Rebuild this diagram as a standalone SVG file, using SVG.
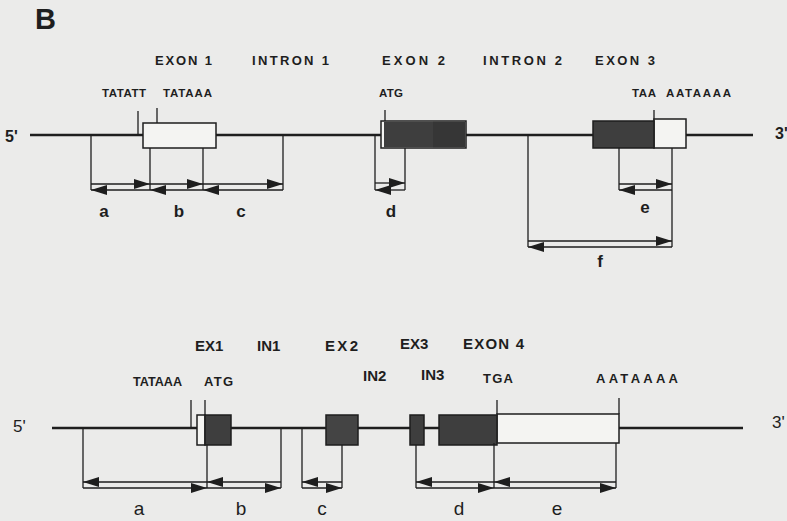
<svg xmlns="http://www.w3.org/2000/svg" width="787" height="521" viewBox="0 0 787 521">
<style>
text{font-family:"Liberation Sans",Arial,sans-serif;fill:#1e1e1e}
.hd{font-size:13px;font-weight:bold}
.sm{font-size:11.5px;font-weight:bold}
.bh{font-size:15px;font-weight:bold}
.bs{font-size:13px;font-weight:bold}
.lt{font-size:17px;font-weight:bold;text-anchor:middle}
.lb{font-size:19px;text-anchor:middle}
.end{font-size:16px;font-weight:bold}
.dna{stroke:#1e1e1e;stroke-width:2.6;fill:none}
.ln{stroke:#1e1e1e;stroke-width:1.3;fill:none}
.wb{fill:#f4f4f2;stroke:#1e1e1e;stroke-width:1.5}
.db{fill:#3e3e3e;stroke:#1e1e1e;stroke-width:1.5}
.ar{stroke:#1e1e1e;stroke-width:1.3;fill:none;marker-end:url(#ah)}
</style>
<defs>
<marker id="ah" markerUnits="userSpaceOnUse" markerWidth="16" markerHeight="10" refX="16" refY="5" orient="auto">
<path d="M0,0 L16,5 L0,10 z" fill="#1e1e1e"/>
</marker>
</defs>
<rect width="787" height="521" fill="#ebebea"/>
<text x="35" y="29" style="font-size:29px;font-weight:bold">B</text>

<g id="top-gene">
<line class="dna" x1="30" y1="135" x2="753" y2="135"/>
<text class="end" x="5" y="142">5'</text>
<text class="end" x="775" y="139">3'</text>
<text class="hd" x="155" y="65" textLength="57" lengthAdjust="spacing">EXON 1</text>
<text class="hd" x="252" y="65" textLength="77" lengthAdjust="spacing">INTRON 1</text>
<text class="hd" x="382" y="65" textLength="63" lengthAdjust="spacing">EXON 2</text>
<text class="hd" x="483" y="65" textLength="79" lengthAdjust="spacing">INTRON 2</text>
<text class="hd" x="595" y="65" textLength="60" lengthAdjust="spacing">EXON 3</text>
</g>
<g id="top-exon1">
<line class="ln" x1="138" y1="111" x2="138" y2="135"/>
<line class="ln" x1="157" y1="108" x2="157" y2="123"/>
<rect class="wb" x="143" y="123" width="73" height="25"/>
<text class="sm" x="102" y="97" textLength="44" lengthAdjust="spacing">TATATT</text>
<text class="sm" x="163" y="97" textLength="49" lengthAdjust="spacing">TATAAA</text>
</g>
<g id="top-exon2">
<line class="ln" x1="385" y1="110" x2="385" y2="121"/>
<rect class="wb" x="381" y="121" width="85" height="27"/>
<rect x="384" y="121.8" width="81.2" height="25.4" fill="#3e3e3e"/>
<rect x="433" y="121.8" width="32.2" height="25.4" fill="#363636"/>
<text class="sm" x="379" y="97" textLength="24" lengthAdjust="spacing">ATG</text>
</g>
<g id="top-exon3">
<line class="ln" x1="654" y1="110" x2="654" y2="121"/>
<rect class="wb" x="654" y="119" width="32" height="29"/>
<rect class="db" x="593" y="121" width="61" height="27"/>
<text class="sm" x="632" y="97" textLength="24" lengthAdjust="spacing">TAA</text>
<text class="sm" x="666" y="97" textLength="65" lengthAdjust="spacing">AATAAAA</text>
</g>

<g id="top-connectors">
<line class="ln" x1="91" y1="135" x2="91" y2="190"/>
<line class="ln" x1="150" y1="148" x2="150" y2="190"/>
<line class="ln" x1="203" y1="148" x2="203" y2="190"/>
<line class="ln" x1="283" y1="135" x2="283" y2="190"/>
<line class="ar" x1="91" y1="184" x2="150" y2="184"/>
<line class="ar" x1="150" y1="190" x2="91" y2="190"/>
<line class="ar" x1="150" y1="184" x2="203" y2="184"/>
<line class="ar" x1="203" y1="190" x2="150" y2="190"/>
<line class="ar" x1="203" y1="184" x2="283" y2="184"/>
<line class="ar" x1="283" y1="190" x2="203" y2="190"/>
<line class="ln" x1="375" y1="135" x2="375" y2="190"/>
<line class="ln" x1="405" y1="148" x2="405" y2="190"/>
<line class="ar" x1="375" y1="183" x2="405" y2="183"/>
<line class="ar" x1="405" y1="190" x2="375" y2="190"/>
<line class="ln" x1="619" y1="148" x2="619" y2="190"/>
<line class="ln" x1="672" y1="148" x2="672" y2="247"/>
<line class="ar" x1="619" y1="184" x2="672" y2="184"/>
<line class="ar" x1="672" y1="190" x2="619" y2="190"/>
<line class="ln" x1="528" y1="135" x2="528" y2="247"/>
<line class="ar" x1="528" y1="241" x2="672" y2="241"/>
<line class="ar" x1="672" y1="247" x2="528" y2="247"/>
<text class="lt" x="104" y="217">a</text>
<text class="lt" x="179" y="217">b</text>
<text class="lt" x="241" y="217">c</text>
<text class="lt" x="391" y="217">d</text>
<text class="lt" x="645" y="213">e</text>
<text class="lt" x="600" y="267">f</text>
</g>

<g id="bottom-gene">
<line class="dna" x1="52" y1="428" x2="743" y2="428"/>
<text x="13" y="432" style="font-size:17px">5'</text>
<text x="772" y="428" style="font-size:17px">3'</text>
<text class="bh" x="195" y="351">EX1</text>
<text class="bh" x="257" y="351">IN1</text>
<text class="bh" x="325" y="351" textLength="33" lengthAdjust="spacing">EX2</text>
<text class="bh" x="363" y="381">IN2</text>
<text class="bh" x="400" y="349">EX3</text>
<text class="bh" x="421" y="380">IN3</text>
<text class="bh" x="463" y="349" textLength="61" lengthAdjust="spacing">EXON 4</text>
</g>
<g id="bottom-ex1">
<line class="ln" x1="191" y1="400" x2="191" y2="428"/>
<line class="ln" x1="205" y1="400" x2="205" y2="415"/>
<rect class="wb" x="197" y="415" width="8" height="30"/>
<rect class="db" x="205" y="415" width="26" height="30"/>
<text class="bs" x="133" y="386" textLength="49" lengthAdjust="spacingAndGlyphs">TATAAA</text>
<text class="bs" x="204" y="386" textLength="29" lengthAdjust="spacing">ATG</text>
</g>
<g id="bottom-ex2">
<rect class="db" x="326" y="415" width="32" height="30" style="fill:#444"/>
</g>
<g id="bottom-ex3">
<rect class="db" x="410" y="415" width="14" height="30"/>
</g>
<g id="bottom-ex4">
<line class="ln" x1="497" y1="400" x2="497" y2="414"/>
<line class="ln" x1="619" y1="398" x2="619" y2="414"/>
<rect class="wb" x="497" y="414" width="122" height="29"/>
<rect class="db" x="439" y="415" width="58" height="30"/>
<text class="bs" x="483" y="383" textLength="30" lengthAdjust="spacing">TGA</text>
<text class="bs" x="596" y="383" textLength="82" lengthAdjust="spacing">AATAAAA</text>
</g>

<g id="bottom-connectors">
<line class="ln" x1="83" y1="428" x2="83" y2="488"/>
<line class="ln" x1="207" y1="445" x2="207" y2="488"/>
<line class="ln" x1="281" y1="428" x2="281" y2="488"/>
<line class="ar" x1="207" y1="482" x2="83" y2="482"/>
<line class="ar" x1="83" y1="488" x2="207" y2="488"/>
<line class="ar" x1="281" y1="482" x2="207" y2="482"/>
<line class="ar" x1="207" y1="488" x2="281" y2="488"/>
<line class="ln" x1="302" y1="428" x2="302" y2="488"/>
<line class="ln" x1="342" y1="445" x2="342" y2="488"/>
<line class="ar" x1="342" y1="482" x2="302" y2="482"/>
<line class="ar" x1="302" y1="488" x2="342" y2="488"/>
<line class="ln" x1="416" y1="445" x2="416" y2="488"/>
<line class="ln" x1="494" y1="443" x2="494" y2="488"/>
<line class="ln" x1="616" y1="443" x2="616" y2="488"/>
<line class="ar" x1="494" y1="482" x2="416" y2="482"/>
<line class="ar" x1="416" y1="488" x2="494" y2="488"/>
<line class="ar" x1="616" y1="482" x2="494" y2="482"/>
<line class="ar" x1="494" y1="488" x2="616" y2="488"/>
<text class="lb" x="139" y="515">a</text>
<text class="lb" x="241" y="515">b</text>
<text class="lb" x="322" y="515">c</text>
<text class="lb" x="459" y="515">d</text>
<text class="lb" x="557" y="515">e</text>
</g>
</svg>
